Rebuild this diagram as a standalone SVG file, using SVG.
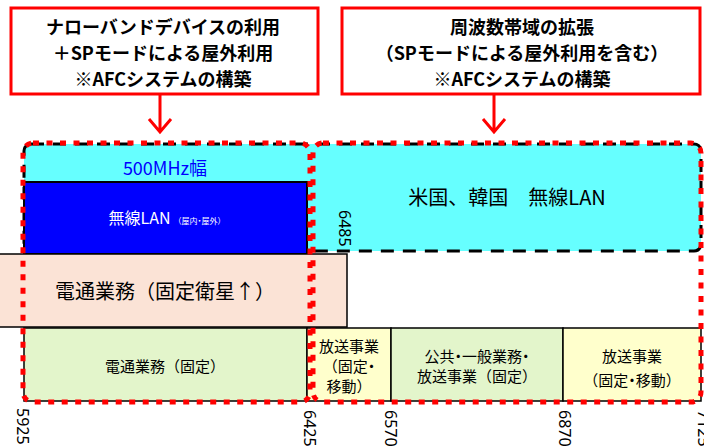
<svg xmlns="http://www.w3.org/2000/svg" width="704" height="447" viewBox="0 0 704 447">
<style>
.jp{font-family:"Noto Sans CJK JP","Noto Sans",sans-serif;}
.hd{font-family:"Noto Sans CJK JP","Noto Sans",sans-serif;font-weight:700;font-size:18px;fill:#000;text-anchor:middle;}
.lbl{font-family:"Noto Sans CJK JP","Noto Sans",sans-serif;fill:#000;text-anchor:middle;}
.p{font-feature-settings:"palt";}
.ax{font-family:"Noto Sans","DejaVu Sans",sans-serif;font-size:16px;fill:#000;dominant-baseline:central;}
.box{stroke:#000;stroke-width:1.5;}
.redbox{fill:#fff;stroke:#f00;stroke-width:3;}
.dot{fill:none;stroke:#f00;stroke-width:5;stroke-dasharray:6 7.5;}
.dash{fill:none;stroke:#000;stroke-width:3;stroke-dasharray:13 9;}
.arr{fill:none;stroke:#f00;stroke-width:3;}
</style>
<rect width="704" height="447" fill="#fff"/>

<g id="wlan-region">
<rect x="24" y="144" width="677" height="107" rx="7" fill="#66ffff"/>
<rect x="24" y="144" width="677" height="107" rx="7" class="dash"/>
<text x="165" y="175" class="jp" font-size="18" fill="#0000ff" text-anchor="middle">500MHz幅</text>
</g>

<g id="us-kr">
<text x="507" y="205" class="jp" font-size="20" fill="#000" text-anchor="middle">米国、韓国　無線LAN</text>
</g>

<g id="wlan-jp">
<rect x="24" y="182" width="283" height="72" fill="#0000ff" stroke="#000" stroke-width="2"/>
<text x="167" y="224" class="jp" fill="#fff" text-anchor="middle"><tspan font-size="16">無線LAN</tspan><tspan font-size="8" dx="3">（屋内<tspan class="p">・</tspan>屋外）</tspan></text>
</g>

<g id="fss">
<rect x="-1" y="254" width="348" height="73" fill="#fbe3d6" class="box"/>
<text x="165" y="299" class="lbl" font-size="20">電通業務（固定衛星↑）</text>
</g>

<g id="fixed">
<rect x="24" y="328" width="283" height="73" fill="#e3f5cb" class="box"/>
<text x="165" y="372" class="lbl" font-size="15">電通業務（固定）</text>
</g>

<g id="bcast1">
<rect x="307" y="328" width="84" height="73" fill="#ffffcc" class="box"/>
<text x="349" y="352" class="lbl" font-size="15">放送事業</text>
<text x="349" y="372" class="lbl" font-size="15">（固定<tspan class="p">・</tspan></text>
<text x="349" y="392" class="lbl" font-size="15">移動）</text>
</g>

<g id="public">
<rect x="391" y="328" width="172" height="73" fill="#e3f5cb" class="box"/>
<text x="477" y="362" class="lbl" font-size="15">公共<tspan class="p">・</tspan>一般業務<tspan class="p">・</tspan></text>
<text x="477" y="382" class="lbl" font-size="15">放送事業（固定）</text>
</g>

<g id="bcast2">
<rect x="563" y="328" width="138" height="73" fill="#ffffcc" class="box"/>
<text x="632" y="362" class="lbl" font-size="15">放送事業</text>
<text x="632" y="386" class="lbl" font-size="15">（固定<tspan class="p">・</tspan>移動）</text>
</g>

<g id="axis">
<text class="ax" transform="translate(23,408) rotate(90)">5925</text>
<text class="ax" transform="translate(310,410) rotate(90)">6425</text>
<text class="ax" transform="translate(391,410) rotate(90)">6570</text>
<text class="ax" transform="translate(565,410) rotate(90)">6870</text>
<text class="ax" transform="translate(704,410) rotate(90)">7125</text>
<text class="ax" transform="translate(345,210) rotate(90)">6485</text>
</g>

<g id="red-frames">
<rect x="23" y="143" width="287" height="259" rx="10" class="dot"/>
<rect x="313" y="143" width="388" height="259" rx="10" class="dot"/>
</g>

<g id="box-left">
<rect x="11" y="8" width="307" height="86" class="redbox"/>
<text x="163" y="34" class="hd">ナローバンドデバイスの利用</text>
<text x="163" y="60" class="hd">＋SPモードによる屋外利用</text>
<text x="163" y="86" class="hd">※AFCシステムの構築</text>
</g>

<g id="box-right">
<rect x="342" y="8" width="358" height="86" class="redbox"/>
<text x="522" y="34" class="hd">周波数帯域の拡張</text>
<text x="522" y="60" class="hd">（SPモードによる屋外利用を含む）</text>
<text x="522" y="86" class="hd">※AFCシステムの構築</text>
</g>

<g id="connectors">
<path d="M160 94 V132 M149 119 L160 132 L171 119" class="arr"/>
<path d="M494 94 V132 M483 119 L494 132 L505 119" class="arr"/>
</g>
</svg>
